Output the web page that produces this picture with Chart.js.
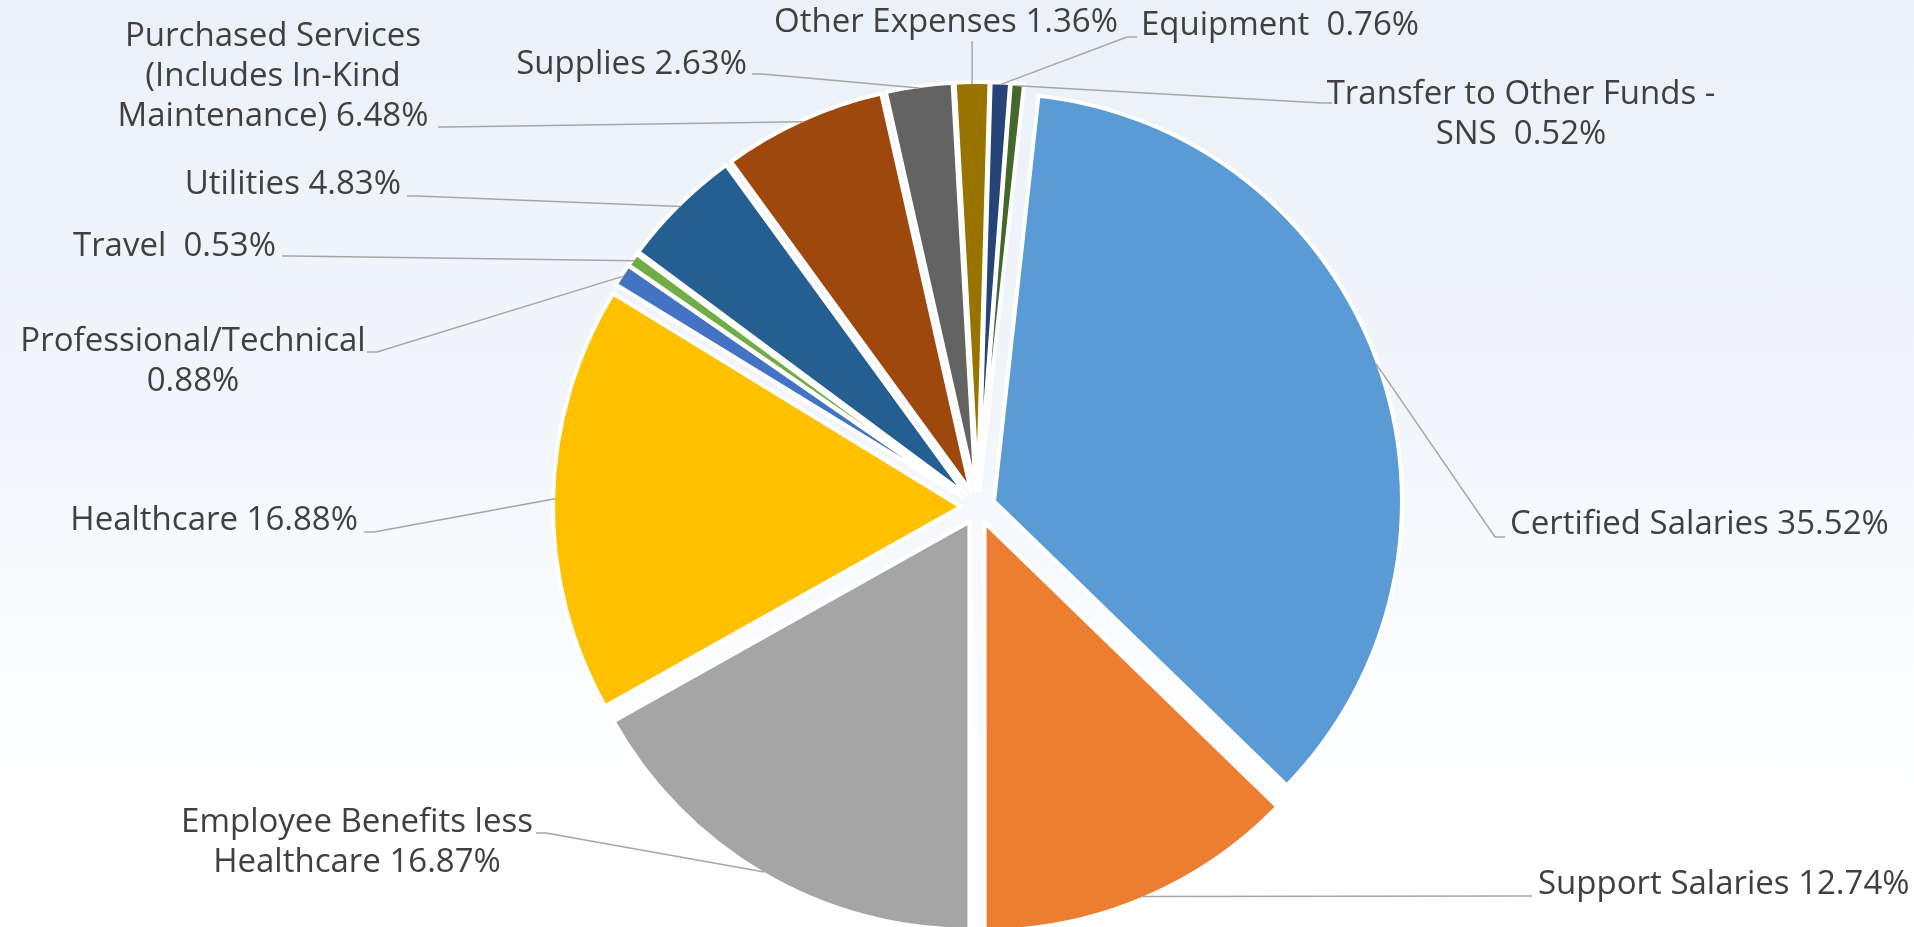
<!DOCTYPE html>
<html>
<head>
<meta charset="utf-8">
<title>Expenditures by Category</title>
<script src="https://cdn.jsdelivr.net/npm/chart.js@4.4.1/dist/chart.umd.min.js"></script>
<style>
    html, body {
        margin: 0;
        padding: 0;
        overflow: hidden;
    }
    body {
        width: 1914px;
        height: 927px;
        background: linear-gradient(to bottom, #ebf1f9 0%, #f2f6fb 45%, #fdfeff 80%, #ffffff 100%);
    }
    .chart-wrap {
        position: relative;
        width: 1914px;
        height: 927px;
    }
</style>
</head>
<body>
<div class="chart-wrap">
    <canvas id="budgetChart"></canvas>
</div>
<script>
// Chart data
const categories = [
    'Certified Salaries',
    'Support Salaries',
    'Employee Benefits less Healthcare',
    'Healthcare',
    'Professional/Technical',
    'Travel ',
    'Utilities',
    'Purchased Services (Includes In-Kind Maintenance)',
    'Supplies',
    'Other Expenses',
    'Equipment ',
    'Transfer to Other Funds - SNS '
];
const shares = [35.52, 12.74, 16.87, 16.88, 0.88, 0.53, 4.83, 6.48, 2.63, 1.36, 0.76, 0.52];

const sliceColors = ['#5b9bd5', '#ed7d31', '#a5a5a5', '#ffc000', '#4472c4', '#70ad47',
    '#255e91', '#9e480e', '#636363', '#997300', '#264478', '#43682b'];

// Label placement: text anchor, wrap width, and where the leader line meets the label
const labelLayout = [
    { x: 1510, y: 525, align: 'left',   wrap: 600, lx: 1505, ly: 537 },
    { x: 1538, y: 885, align: 'left',   wrap: 600, lx: 1532, ly: 896 },
    { x: 357,  y: 823, align: 'center', wrap: 400, lx: 536,  ly: 833 },
    { x: 358,  y: 521, align: 'right',  wrap: 600, lx: 364,  ly: 532 },
    { x: 193,  y: 342, align: 'center', wrap: 360, lx: 367,  ly: 352 },
    { x: 276,  y: 247, align: 'right',  wrap: 600, lx: 282,  ly: 256 },
    { x: 401,  y: 185, align: 'right',  wrap: 600, lx: 407,  ly: 196 },
    { x: 273,  y: 37,  align: 'center', wrap: 360, lx: 438,  ly: 127 },
    { x: 747,  y: 65,  align: 'right',  wrap: 600, lx: 752,  ly: 74 },
    { x: 946,  y: 23,  align: 'center', wrap: 600, lx: 971,  ly: 42 },
    { x: 1141, y: 26,  align: 'left',   wrap: 600, lx: 1137, ly: 37 },
    { x: 1521, y: 95,  align: 'center', wrap: 400, lx: 1332, ly: 103 }
];

const pieRadius = 408;
const explodeBy = 17;
const lineHeight = 40;

// Split a label into lines no wider than maxWidth
function wrapText(ctx, text, maxWidth) {
    const words = text.split(' ');
    const lines = [];
    let line = words[0];
    for (let i = 1; i < words.length; i++) {
        const test = line + ' ' + words[i];
        if (words[i] !== '' && ctx.measureText(test).width > maxWidth) {
            lines.push(line);
            line = words[i];
        } else {
            line = test;
        }
    }
    lines.push(line);
    return lines;
}

// Pull every slice out from the centre along its own mid angle
const explodeSlices = {
    id: 'explodeSlices',
    afterDatasetsUpdate(chart) {
        chart.getDatasetMeta(0).data.forEach(arc => {
            const mid = (arc.startAngle + arc.endAngle) / 2;
            arc.x += Math.cos(mid) * explodeBy;
            arc.y += Math.sin(mid) * explodeBy;
        });
    }
};

// Data labels with leader lines
const leaderLabels = {
    id: 'leaderLabels',
    afterDraw(chart) {
        const ctx = chart.ctx;
        const arcs = chart.getDatasetMeta(0).data;
        ctx.save();
        ctx.font = '33px "Open Sans", "Liberation Sans", sans-serif';
        ctx.textBaseline = 'middle';
        arcs.forEach((arc, i) => {
            const spot = labelLayout[i];
            const mid = (arc.startAngle + arc.endAngle) / 2;
            const r = arc.outerRadius - 2;
            const ex = arc.x + Math.cos(mid) * r;
            const ey = arc.y + Math.sin(mid) * r;
            const dx = ex - spot.lx;
            const stub = Math.sign(dx) * Math.min(10, Math.abs(dx));

            ctx.strokeStyle = '#a6a6a6';
            ctx.lineWidth = 1.5;
            ctx.beginPath();
            ctx.moveTo(spot.lx, spot.ly);
            ctx.lineTo(spot.lx + stub, spot.ly);
            ctx.lineTo(ex, ey);
            ctx.stroke();

            ctx.fillStyle = '#404040';
            ctx.textAlign = spot.align;
            const text = categories[i] + ' ' + shares[i].toFixed(2) + '%';
            wrapText(ctx, text, spot.wrap).forEach((ln, k) => {
                ctx.fillText(ln, spot.x, spot.y + k * lineHeight);
            });
        });
        ctx.restore();
    }
};

document.addEventListener('DOMContentLoaded', function() {
    const ctx = document.getElementById('budgetChart');
    new Chart(ctx, {
        type: 'pie',
        data: {
            labels: categories,
            datasets: [{
                data: shares,
                backgroundColor: sliceColors,
                borderColor: '#ffffff',
                borderWidth: 4,
                borderJoinStyle: 'round'
            }]
        },
        options: {
            responsive: true,
            maintainAspectRatio: false,
            animation: false,
            events: [],
            rotation: 6.26,
            radius: pieRadius,
            layout: {
                padding: { left: 42, top: 87, right: 0, bottom: 0 }
            },
            plugins: {
                legend: { display: false },
                tooltip: { enabled: false }
            }
        },
        plugins: [explodeSlices, leaderLabels]
    });
});
</script>
</body>
</html>
